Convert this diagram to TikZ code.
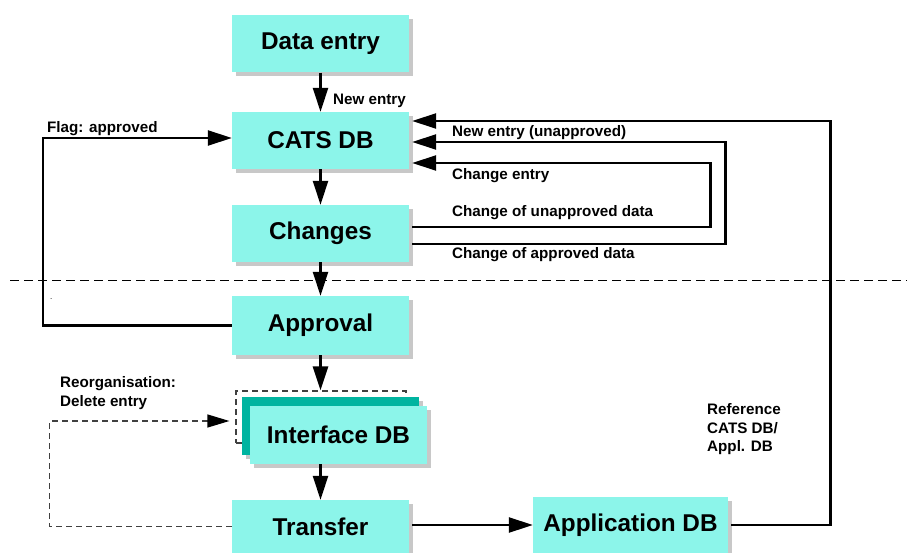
\documentclass[tikz,border=0pt]{standalone}
\usepackage{fontspec}
\setmainfont{Liberation Sans}
\usetikzlibrary{positioning,arrows.meta,calc,shadows}
\definecolor{boxcyan}{RGB}{140,245,234}
\definecolor{boxteal}{RGB}{0,180,160}
\definecolor{shadowgray}{RGB}{200,200,200}

\begin{document}
\begin{tikzpicture}[x=1pt,y=-1pt,>={Triangle[length=24pt,width=15pt]},
    stage/.style={fill=boxcyan, inner sep=0pt, minimum width=177pt, minimum height=57pt,
        font=\bfseries\fontsize{24.3}{28}\selectfont,
        drop shadow={shadow xshift=4pt, shadow yshift=-4pt, fill=shadowgray, opacity=1}},
    frame/.style={draw=black!75, line width=1.2pt, dash pattern=on 6pt off 4pt,
        inner sep=0pt, minimum width=170pt, minimum height=52pt},
    flow/.style={->, line width=2.6pt},
    reorg/.style={-{Triangle[length=22pt,width=13pt,color=black]}, draw=black!75,
        line width=1.2pt, dash pattern=on 6pt off 4pt},
    lbl/.style={anchor=west, inner sep=0pt, align=left,
        font=\bfseries\fontsize{15.2}{18.5}\selectfont}]

\useasboundingbox (0,0) rectangle (907,553);

% -------------------------
% Trennlinie
% -------------------------
\draw[line width=1pt, dash pattern=on 9pt off 5pt] (10,280) -- (907,280);

% -------------------------
% Stationen
% -------------------------
\node[stage] (entry) at (320.5,44) {Data entry};
\node[stage] (cats) at (320.5,140.5) {CATS DB};
\node[stage] (changes) at (320.5,233.5) {Changes};
\node[stage, minimum height=59pt] (approval) at (320.5,325.5) {Approval};
\node[frame] (ifframe) at (321,417) {};
\node[stage, fill=boxteal, minimum height=58pt] (ifback) at (330.5,426) {};
\node[stage, minimum height=58pt] (iffront) at (338.5,435) {Interface DB};
\node[stage, minimum height=53pt] (transfer) at (320.5,526.5) {Transfer};
\node[stage, minimum width=195pt, minimum height=56pt] (appl) at (630.5,525) {Application DB};

% -------------------------
% Hauptfluss
% -------------------------
\draw[flow] (entry) -- (cats);
\draw[flow] (cats) -- (changes);
\draw[flow] (changes) -- (approval);
\draw[flow] (approval.south) -- (approval.south |- ifframe.north);
\draw[flow] (iffront.south -| transfer.north) -- (transfer.north);
\draw[flow] ($(transfer.east |- appl.west)+(3,0)$) -- (appl.west);

% -------------------------
% Rueckfuehrungen
% -------------------------
\draw[flow] ($(changes.east)+(3,-6.5)$) -- ++(298,0) |- ($(cats.east)+(3,22.5)$);
\draw[flow] ($(changes.east)+(3,10.5)$) -- ++(313,0) |- ($(cats.east)+(3,1.5)$);
\draw[flow] ($(appl.east)+(3,0)$) -- ++(99,0) |- ($(cats.east)+(3,-19.5)$);
\draw[flow] (approval.west) -- ++(-189,0) |- ($(cats.west)+(0,-2.5)$);
\draw[reorg] (transfer.west) -- ++(-182,0) |- ($(ifframe.west)+(-6,4)$);

% -------------------------
% Beschriftungen
% -------------------------
\node[lbl] (lblnew) at (333,101) {New entry};
\node[lbl] (lblflag) at (47,129) {Flag: approved};
\node[lbl] (lblunappr) at (452,133) {New entry (unapproved)};
\node[lbl] (lblchg) at (452,176) {Change entry};
\node[lbl] (lblchgun) at (452,213) {Change of unapproved data};
\node[lbl] (lblchgap) at (452,255) {Change of approved data};
\node[lbl] (lblreorg) at (60,393) {Reorganisation:\\Delete entry};
\node[lbl] (lblref) at (707,429.5) {Reference\\CATS DB/\\Appl. DB};
\node[lbl, font=\fontsize{8}{8}\selectfont] (lbldot) at (50,299) {.};

\end{tikzpicture}
\end{document}
